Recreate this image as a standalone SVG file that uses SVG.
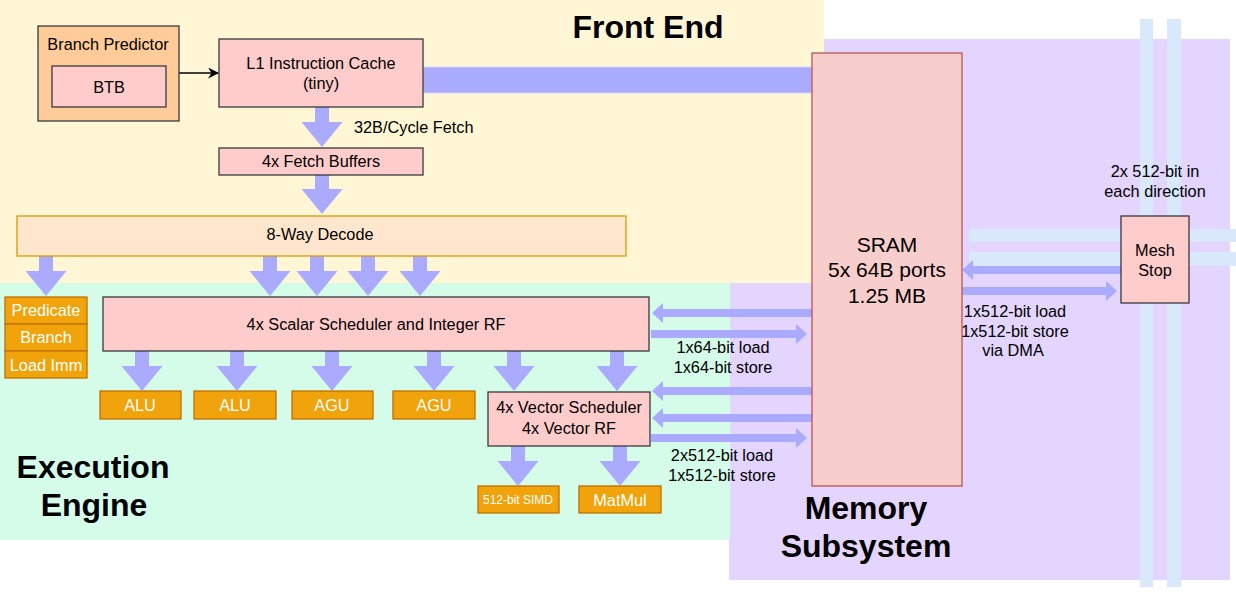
<svg xmlns="http://www.w3.org/2000/svg" xmlns:xlink="http://www.w3.org/1999/xlink" width="1236" height="602" viewBox="0 0 1236 602">
<style>
text{font-family:"Liberation Sans",Arial,Helvetica,sans-serif;font-size:16.3px;fill:#000;text-anchor:middle}
.title{font-size:32px;font-weight:bold}
.big{font-size:21px}
.small{font-size:12px}
.w{fill:#fff}
.pink{fill:#ffcccc;stroke:#36393d;stroke-width:1.3}
.orange{fill:#f0a30a;stroke:#bd7000;stroke-width:1.3}
.barrow{fill:#aaaaff}
.mesh{fill:#dae8fc}
</style>
<defs>
<path id="dArrow" d="M0,0 L-20.5,-25 L-7,-25 L-7,-40 L7,-40 L7,-25 L20.5,-25 Z"/>
<path id="lArrow" d="M0,0 L11,-10 L11,-4 L160,-4 L160,4 L11,4 L11,10 Z"/>
<path id="rArrow" d="M0,0 L-11,-10 L-11,-4 L-156,-4 L-156,4 L-11,4 L-11,10 Z"/>
<marker id="tri" viewBox="0 0 10 10" refX="9" refY="5" markerWidth="11" markerHeight="11" markerUnits="userSpaceOnUse" orient="auto">
<path d="M0,0 L10,5 L0,10 L3,5 Z" fill="#000"/>
</marker>
</defs>

<g id="backgrounds">
<rect x="729" y="39" width="501" height="541" fill="#e3d5fd"/>
<rect x="0" y="0" width="824" height="283" fill="#fff6d6"/>
<rect x="0" y="283" width="730" height="257" fill="#d5fce8"/>
</g>

<g id="mesh-lines">
<rect class="mesh" x="1140" y="19" width="13" height="568"/>
<rect class="mesh" x="1167" y="19" width="14" height="568"/>
<rect class="mesh" x="969" y="229" width="267" height="13"/>
<rect class="mesh" x="969" y="252" width="267" height="14"/>
</g>

<g id="connectors">
<rect x="423" y="67" width="389" height="26" fill="#aaaaff" stroke="#d4d4f6" stroke-width="1"/>
<line x1="179" y1="73" x2="218" y2="73" stroke="#000" stroke-width="1.3" marker-end="url(#tri)"/>
<use xlink:href="#dArrow" class="barrow" transform="translate(322,147)"/>
<use xlink:href="#dArrow" class="barrow" transform="translate(322,214)"/>
<use xlink:href="#dArrow" class="barrow" transform="translate(46,296)"/>
<use xlink:href="#dArrow" class="barrow" transform="translate(270,296)"/>
<use xlink:href="#dArrow" class="barrow" transform="translate(317,296)"/>
<use xlink:href="#dArrow" class="barrow" transform="translate(368,296)"/>
<use xlink:href="#dArrow" class="barrow" transform="translate(420,296)"/>
<use xlink:href="#dArrow" class="barrow" transform="translate(142,391)"/>
<use xlink:href="#dArrow" class="barrow" transform="translate(237,391)"/>
<use xlink:href="#dArrow" class="barrow" transform="translate(332,391)"/>
<use xlink:href="#dArrow" class="barrow" transform="translate(434,391)"/>
<use xlink:href="#dArrow" class="barrow" transform="translate(514,391)"/>
<use xlink:href="#dArrow" class="barrow" transform="translate(617,391)"/>
<use xlink:href="#dArrow" class="barrow" transform="translate(518,486)"/>
<use xlink:href="#dArrow" class="barrow" transform="translate(620,486)"/>
<use xlink:href="#lArrow" class="barrow" transform="translate(652,313)"/>
<use xlink:href="#rArrow" class="barrow" transform="translate(807,334)"/>
<use xlink:href="#lArrow" class="barrow" transform="translate(652,391)"/>
<use xlink:href="#lArrow" class="barrow" transform="translate(652,418)"/>
<use xlink:href="#rArrow" class="barrow" transform="translate(807,438)"/>
<use xlink:href="#lArrow" class="barrow" transform="translate(962,270)"/>
<use xlink:href="#rArrow" class="barrow" transform="translate(1117,291)"/>
</g>

<g id="branch-predictor">
<rect x="38" y="26" width="141" height="95" fill="#ffcc99" stroke="#36393d" stroke-width="1.3"/>
<text x="108" y="50">Branch Predictor</text>
</g>
<g id="btb">
<rect class="pink" x="52" y="66" width="114" height="41"/>
<text x="109" y="93">BTB</text>
</g>
<g id="l1-icache">
<rect class="pink" x="219" y="39" width="204" height="68"/>
<text x="321" y="69">L1 Instruction Cache</text>
<text x="321" y="89">(tiny)</text>
</g>
<g id="fetch-label">
<text x="354" y="133" style="text-anchor:start">32B/Cycle Fetch</text>
</g>
<g id="fetch-buffers">
<rect class="pink" x="219" y="148" width="204" height="27"/>
<text x="321" y="167">4x Fetch Buffers</text>
</g>
<g id="decode">
<rect x="17" y="216" width="609" height="40" fill="#ffe6cc" stroke="#d79b00" stroke-width="1.3"/>
<text x="320" y="240">8-Way Decode</text>
</g>
<g id="predicate">
<rect class="orange" x="5" y="297" width="82" height="27"/>
<text class="w" x="46" y="316">Predicate</text>
</g>
<g id="branch">
<rect class="orange" x="5" y="324" width="82" height="27"/>
<text class="w" x="46" y="343">Branch</text>
</g>
<g id="load-imm">
<rect class="orange" x="5" y="351" width="82" height="27"/>
<text class="w" x="46" y="371">Load Imm</text>
</g>
<g id="scalar-scheduler">
<rect class="pink" x="103" y="297" width="546" height="54"/>
<text x="376" y="330">4x Scalar Scheduler and Integer RF</text>
</g>
<g id="alu1">
<rect class="orange" x="100" y="391" width="81" height="28"/>
<text class="w" x="140" y="411">ALU</text>
</g>
<g id="alu2">
<rect class="orange" x="194" y="391" width="82" height="28"/>
<text class="w" x="235" y="411">ALU</text>
</g>
<g id="agu1">
<rect class="orange" x="292" y="391" width="81" height="28"/>
<text class="w" x="332" y="411">AGU</text>
</g>
<g id="agu2">
<rect class="orange" x="393" y="391" width="82" height="28"/>
<text class="w" x="434" y="411">AGU</text>
</g>
<g id="vector-scheduler">
<rect class="pink" x="488" y="392" width="162" height="54"/>
<text x="569" y="413">4x Vector Scheduler</text>
<text x="569" y="434">4x Vector RF</text>
</g>
<g id="simd">
<rect class="orange" x="478" y="486" width="81" height="27"/>
<text class="w small" x="518" y="504">512-bit SIMD</text>
</g>
<g id="matmul">
<rect class="orange" x="579" y="486" width="82" height="27"/>
<text class="w" x="620" y="506">MatMul</text>
</g>
<g id="scalar-mem-label">
<text x="723" y="353">1x64-bit load</text>
<text x="723" y="373">1x64-bit store</text>
</g>
<g id="vector-mem-label">
<text x="722" y="461">2x512-bit load</text>
<text x="722" y="481">1x512-bit store</text>
</g>
<g id="sram">
<rect x="812" y="53" width="150" height="433" fill="#f8cecc" stroke="#b85450" stroke-width="1.3"/>
<text class="big" x="887" y="252">SRAM</text>
<text class="big" x="887" y="277">5x 64B ports</text>
<text class="big" x="887" y="303">1.25 MB</text>
</g>
<g id="mesh-stop">
<rect class="pink" x="1121" y="216" width="68" height="87"/>
<text x="1155" y="256">Mesh</text>
<text x="1155" y="276">Stop</text>
</g>
<g id="mesh-label">
<text x="1155" y="177">2x 512-bit in</text>
<text x="1155" y="197">each direction</text>
</g>
<g id="dma-label">
<text x="1015" y="317">1x512-bit load</text>
<text x="1015" y="337">1x512-bit store</text>
<text x="1013" y="356">via DMA</text>
</g>
<g id="titles">
<text class="title" x="648" y="38">Front End</text>
<text class="title" x="93" y="478">Execution</text>
<text class="title" x="94" y="516">Engine</text>
<text class="title" x="866" y="519">Memory</text>
<text class="title" x="866" y="557">Subsystem</text>
</g>
</svg>
